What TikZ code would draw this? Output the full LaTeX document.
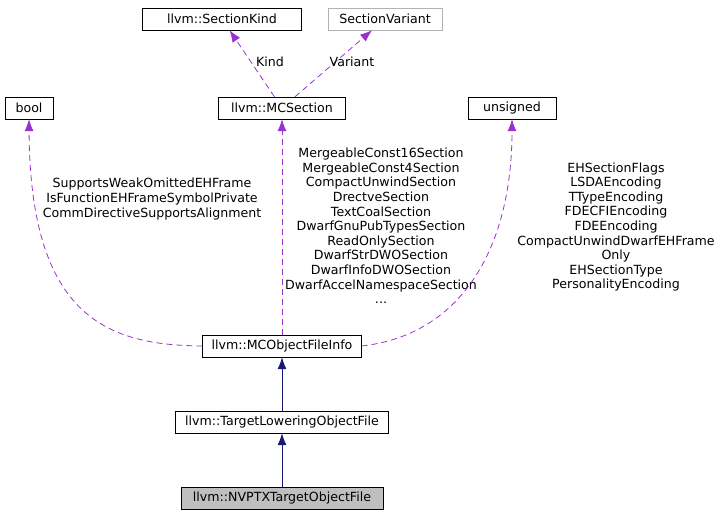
\documentclass[tikz,border=0pt]{standalone}
\usepackage{fontspec}
\setmainfont{DejaVu Sans}
\usetikzlibrary{arrows.meta}
\definecolor{orchid}{RGB}{153,50,204}
\definecolor{midnight}{RGB}{25,25,112}
\tikzset{
  cls/.style={draw=black, fill=white, inner sep=0pt, minimum height=22pt, font=\fontsize{12.6}{14.6}\selectfont},
  use/.style={-{Latex[length=12pt,width=9pt]}, dashed, dash pattern=on 6pt off 4pt, draw=orchid, line width=0.8pt},
  inh/.style={-{Latex[length=12pt,width=9pt]}, draw=midnight, line width=0.8pt},
  lbl/.style={align=center, font=\fontsize{12.6}{14.6}\selectfont}
}
\begin{document}
\begin{tikzpicture}[x=1pt,y=-1pt]
  \useasboundingbox (0,0) rectangle (721,520);
  % Clases
  \node[cls, minimum width=159pt] (kind) at (222,19) {llvm::SectionKind};
  \node[cls, minimum width=114pt, draw=gray!60] (variant) at (385,19) {SectionVariant};
  \node[cls, minimum width=48pt] (bool) at (29,108) {bool};
  \node[cls, minimum width=127pt] (section) at (282,108) {llvm::MCSection};
  \node[cls, minimum width=88pt] (unsigned) at (512,108) {unsigned};
  \node[cls, minimum width=159pt] (mcofi) at (282,346) {llvm::MCObjectFileInfo};
  \node[cls, minimum width=213pt] (tlof) at (282,422) {llvm::TargetLoweringObjectFile};
  \node[cls, minimum width=202pt, fill=gray!50] (nvptx) at (282,498) {llvm::NVPTXTargetObjectFile};

  % Herencia
  \draw[inh] (tlof) -- (mcofi);
  \draw[inh] (nvptx) -- (tlof);

  % Miembros
  \draw[use] (section) -- (kind);
  \draw[use] (section) -- (variant);
  \node[lbl] (lkind) at (270,62) {Kind};
  \node[lbl] (lvariant) at (352,62) {Variant};

  \draw[use] (mcofi.north) -- (section.south);
  \node[lbl] (lsection) at (381,226) {MergeableConst16Section\\MergeableConst4Section\\CompactUnwindSection\\DrectveSection\\TextCoalSection\\DwarfGnuPubTypesSection\\ReadOnlySection\\DwarfStrDWOSection\\DwarfInfoDWOSection\\DwarfAccelNamespaceSection\\...};

  \draw[use] (mcofi.west) .. controls (110,345) and (30,320) .. (bool.south);
  \node[lbl] (lbool) at (152,199) {SupportsWeakOmittedEHFrame\\IsFunctionEHFrameSymbolPrivate\\CommDirectiveSupportsAlignment};

  \draw[use] (mcofi.east) .. controls (460,335) and (512,250) .. (unsigned.south);
  \node[lbl] (lunsigned) at (616,227) {EHSectionFlags\\LSDAEncoding\\TTypeEncoding\\FDECFIEncoding\\FDEEncoding\\CompactUnwindDwarfEHFrame\\Only\\EHSectionType\\PersonalityEncoding};
\end{tikzpicture}
\end{document}
